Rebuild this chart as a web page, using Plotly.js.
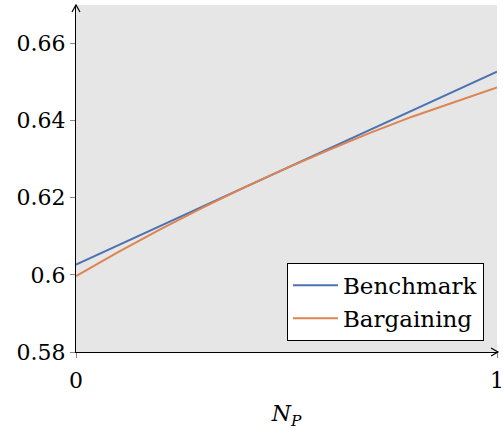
<!DOCTYPE html>
<html><head><meta charset="utf-8">
<script src="https://cdn.plot.ly/plotly-3.0.1.min.js"></script>
<style>html,body{margin:0;padding:0;background:#fff}</style>
</head><body>
<div id="chart" style="width:503px;height:430px"></div>
<script>
const xValues = [0, 0.1, 0.2, 0.3, 0.4, 0.5, 0.6, 0.7, 0.8, 0.9, 1];
const benchmark = [0.6027, 0.6077, 0.6127, 0.6177, 0.6227, 0.6277, 0.6327, 0.6377, 0.6427, 0.6477, 0.6527];
const bargaining = [0.5997, 0.6059, 0.6118, 0.6174, 0.6227, 0.6277, 0.6324, 0.6369, 0.6411, 0.6449, 0.6486];
const yTicks = [0.58, 0.6, 0.62, 0.64, 0.66];
const yTickLabels = ['0.58', '0.6', '0.62', '0.64', '0.66'];
const xTicks = [0, 1];
const xTickLabels = ['0', '1'];

const font = {family: 'DejaVu Serif, serif', size: 22, color: '#000'};
const legendFont = {family: 'DejaVu Serif, serif', size: 23, color: '#000'};

const traces = [
  {x: xValues, y: benchmark, name: 'Benchmark', mode: 'lines', line: {color: '#4C72B0', width: 2}},
  {x: xValues, y: bargaining, name: 'Bargaining', mode: 'lines', line: {color: '#DD8452', width: 2}}
];

const layout = {
  width: 503, height: 430,
  margin: {l: 76, r: 6, t: 5, b: 78},
  paper_bgcolor: '#fff',
  plot_bgcolor: '#e6e6e6',
  font: font,
  showlegend: true,
  legend: {
    x: 0.969, y: 0.032, xanchor: 'right', yanchor: 'bottom',
    bgcolor: '#fff', bordercolor: '#000', borderwidth: 1,
    font: legendFont, tracegroupgap: 0, itemwidth: 45
  },
  xaxis: {
    range: [0, 1], tickvals: xTicks, ticktext: xTickLabels,
    showgrid: false, zeroline: false, showline: true, linecolor: '#000', linewidth: 1.2,
    ticks: 'outside', ticklen: 5, tickcolor: '#888', tickwidth: 1,
    ticklabeloverflow: 'allow', ticklabelstandoff: 3,
    tickfont: font,
    title: {text: '<i>N</i><sub><i>P</i></sub>', font: font, standoff: 14}
  },
  yaxis: {
    range: [0.58, 0.67], tickvals: yTicks, ticktext: yTickLabels,
    showgrid: false, zeroline: false, showline: true, linecolor: '#000', linewidth: 1.2,
    ticks: 'outside', ticklen: 5, tickcolor: '#888', tickwidth: 1,
    tickfont: font
  },
  shapes: [
    {type: 'path', xref: 'paper', yref: 'paper', xsizemode: 'pixel', ysizemode: 'pixel',
     xanchor: 0, yanchor: 1, path: 'M -4 -7 L 0 0 L 4 -7', line: {color: '#000', width: 1.2}},
    {type: 'path', xref: 'paper', yref: 'paper', xsizemode: 'pixel', ysizemode: 'pixel',
     xanchor: 1, yanchor: 0, path: 'M -6 4 L 1 0 L -6 -4', line: {color: '#000', width: 1.2}}
  ]
};

Plotly.newPlot('chart', traces, layout, {displayModeBar: false, staticPlot: true});
</script>
</body></html>
